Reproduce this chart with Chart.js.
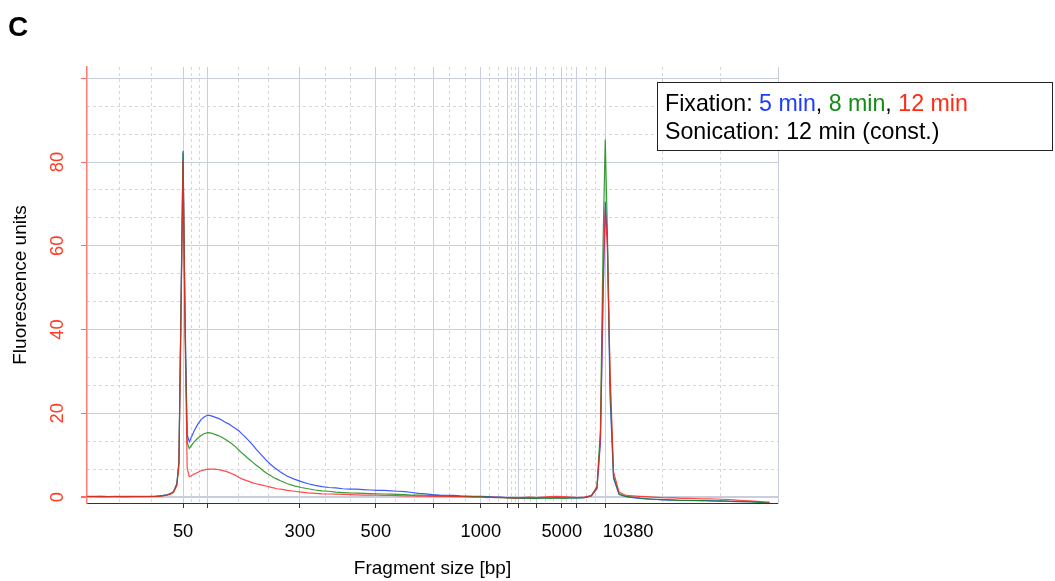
<!DOCTYPE html>
<html>
<head>
<meta charset="utf-8">
<title>Fragment size distribution</title>
<script src="https://cdn.jsdelivr.net/npm/chart.js@4.4.0/dist/chart.umd.min.js"></script>
<style>
  html, body { margin: 0; padding: 0; background: #fff; }
  #trace { display: block; }
</style>
</head>
<body>
<canvas id="trace" width="1055" height="581"></canvas>
<script>
"use strict";
/* electropherogram: three fixation times, same sonication */

// migration time (s) of each sample point
var times = [
  20, 21, 22, 23, 24, 25, 26, 27, 28, 29,
  30, 30.5, 31, 31.5, 32, 32.5, 33, 33.3, 33.6, 33.9, 34.2, 34.5, 34.8,
  35.1, 35.5, 36, 36.5, 37, 37.5, 38, 38.5, 39, 39.5, 40, 40.5, 41, 41.5, 42, 42.5,
  43, 43.5, 44, 44.5, 45, 45.5, 46, 46.5, 47, 47.5, 48,
  49, 50, 51, 52, 53, 54, 55, 56, 57, 58, 59, 60, 61, 62, 63, 64, 65, 66, 67, 68, 69, 70,
  71, 72, 73, 74, 75, 76, 77, 78, 79, 80, 81, 82, 83, 84, 85, 86, 87, 88, 89, 90, 91, 92,
  93, 93.8, 94.3, 94.7, 95, 95.3, 95.7, 96.2, 97,
  98, 99, 100, 101, 102, 103, 104, 105, 106, 107, 108, 109, 110, 111, 112, 113, 114, 115, 116, 117, 118, 118.8
];

// fluorescence units
var fix5 = [
  0.2, 0.1, 0.2, 0.1, 0.15, 0.1, 0.2, 0.1, 0.15, 0.2,
  0.25, 0.3, 0.4, 0.55, 0.8, 1.3, 3.2, 8.5, 46, 82.7, 42, 15, 13.2,
  14.3, 15.8, 17.3, 18.5, 19.2, 19.6, 19.4, 19.1, 18.8, 18.4, 17.9, 17.5, 16.9, 16.4, 15.8, 15.0,
  14.2, 13.3, 12.4, 11.4, 10.5, 9.6, 8.7, 7.9, 7.2, 6.6, 6.0,
  5.0, 4.3, 3.7, 3.2, 2.8, 2.5, 2.3, 2.2, 2.0, 1.9, 1.9, 1.8, 1.7, 1.6, 1.6, 1.5, 1.4, 1.3, 1.1, 0.9, 0.8, 0.6,
  0.5, 0.45, 0.4, 0.3, 0.25, 0.2, 0.2, 0.1, 0.0, 0.0, -0.2, -0.2, -0.3, -0.2, -0.3, -0.2, -0.2, -0.1, -0.2, -0.2, -0.2, -0.1,
  0.3, 2, 13, 48, 70.5, 62, 24, 4.5, 0.6,
  0.1, -0.1, -0.3, -0.4, -0.5, -0.6, -0.7, -0.7, -0.75, -0.8, -0.8, -0.85, -0.85, -0.9, -0.9, -1.0, -1.0, -1.05, -1.1, -1.2, -1.3, -1.4
];
var fix8 = [
  0.15, 0.2, 0.1, 0.15, 0.2, 0.1, 0.15, 0.2, 0.1, 0.15,
  0.2, 0.25, 0.35, 0.5, 0.7, 1.2, 3.0, 8, 44, 82.2, 40, 13, 11.6,
  12.3, 13.2, 14.0, 14.7, 15.2, 15.4, 15.3, 15.0, 14.7, 14.3, 13.8, 13.3, 12.7, 12.0, 11.2, 10.4,
  9.7, 9.0, 8.3, 7.6, 7.0, 6.3, 5.7, 5.2, 4.7, 4.3, 3.9,
  3.2, 2.7, 2.3, 2.0, 1.7, 1.5, 1.4, 1.2, 1.1, 1.0, 0.95, 0.9, 0.85, 0.8, 0.75, 0.7, 0.65, 0.6, 0.5, 0.5, 0.45, 0.4,
  0.35, 0.3, 0.25, 0.2, 0.15, 0.1, 0.1, 0.0, -0.1, -0.1, -0.2, -0.3, -0.2, -0.3, -0.3, -0.2, -0.3, -0.2, -0.3, -0.2, -0.2, -0.1,
  0.4, 2.5, 16, 62, 85.4, 64, 27, 5, 0.8,
  0.2, 0.0, -0.2, -0.4, -0.5, -0.6, -0.6, -0.7, -0.8, -0.75, -0.85, -0.8, -0.9, -0.95, -0.9, -1.0, -1.05, -1.1, -1.15, -1.2, -1.3, -1.4
];
var fix12 = [
  0.1, 0.15, 0.2, 0.1, 0.15, 0.2, 0.1, 0.15, 0.2, 0.1,
  0.2, 0.25, 0.3, 0.45, 0.65, 1.1, 2.7, 7.5, 42, 80.3, 38, 7, 4.9,
  5.1, 5.5, 5.9, 6.3, 6.5, 6.7, 6.7, 6.7, 6.6, 6.4, 6.2, 5.9, 5.6, 5.2, 4.7, 4.3,
  4.0, 3.7, 3.4, 3.2, 3.0, 2.8, 2.6, 2.4, 2.2, 2.0, 1.9,
  1.6, 1.4, 1.2, 1.0, 0.9, 0.8, 0.75, 0.7, 0.65, 0.6, 0.55, 0.5, 0.5, 0.45, 0.4, 0.4, 0.35, 0.3, 0.3, 0.25, 0.25, 0.2,
  0.2, 0.15, 0.1, 0.1, 0.05, 0.0, 0.0, -0.1, 0.0, -0.1, -0.1, -0.2, -0.1, 0.0, -0.1, 0.0, 0.1, 0.2, 0.1, 0.0, -0.1, 0.0,
  0.4, 2.2, 14, 52, 68.8, 60, 30, 6, 1.2,
  0.4, 0.3, 0.2, 0.1, 0.0, -0.1, -0.2, -0.2, -0.3, -0.3, -0.35, -0.4, -0.4, -0.45, -0.5, -0.6, -0.7, -0.8, -0.9, -1.0, -1.1, -1.2
];

var fixLabels = ["5 min", "8 min", "12 min"];

// ladder fragments (bp) and the time at which each one runs
var ladderSizes = [50, 100, 300, 500, 700, 1000, 1500, 2000, 3000, 5000, 7000, 10380];
var ladderTimes = [33.9, 37.4, 50.8, 61.8, 70.2, 77.0, 80.9, 82.5, 85.1, 88.7, 90.9, 95.0];
var shownSizes = [50, 300, 500, 1000, 5000, 10380];

var yTicks = [0, 20, 40, 60, 80, 100];
var yLabels = [0, 20, 40, 60, 80];

var tMin = 20, tMax = 120;
var yMin = -1.4, yMax = 102.7;

var lineColors = ["rgba(30,60,255,0.85)", "rgba(20,140,20,0.85)", "rgba(255,30,30,0.8)"];
var textColors = ["#1e3cff", "#148c14", "#ff2a14"];
var FONT = "'Liberation Sans', Arial, Helvetica, sans-serif";
var majorGrid = "rgb(200,206,222)";
var minorGrid = "rgb(214,214,214)";

// dotted lines at thirds between neighbouring ladder / y gridlines
function thirds(edges) {
  var out = [];
  for (var i = 0; i < edges.length - 1; i++) {
    var step = (edges[i + 1] - edges[i]) / 3;
    out.push(edges[i] + step, edges[i] + 2 * step);
  }
  return out;
}
var xMinor = thirds([tMin].concat(ladderTimes, [tMax]));
var yMinor = thirds(yTicks);

function toPoints(values) {
  return values.map(function (v, i) {
    return { x: times[i], y: v };
  });
}

var series = [fix5, fix8, fix12];
var datasets = series.map(function (values, i) {
  return {
    label: fixLabels[i],
    data: toPoints(values),
    borderColor: lineColors[i],
    borderWidth: 1.2,
    pointRadius: 0,
    tension: 0,
    fill: false,
    order: series.length - i, // 12 min drawn last, on top
  };
});

var panelText = {
  id: "panelText",
  afterDraw: function (chart) {
    var ctx = chart.ctx;
    var area = chart.chartArea;
    ctx.save();

    ctx.fillStyle = "#000";
    ctx.textBaseline = "alphabetic";
    ctx.textAlign = "left";
    ctx.font = "bold 28px " + FONT;
    ctx.fillText("C", 8, 36);

    // key box
    var bx = area.right - 121, by = area.top + 15;
    ctx.fillStyle = "#fff";
    ctx.fillRect(bx, by, 396, 69);
    ctx.strokeStyle = "#222";
    ctx.lineWidth = 1;
    ctx.strokeRect(bx + 0.5, by + 0.5, 395, 68);

    ctx.font = "23.2px " + FONT;
    var parts = [
      ["Fixation: ", "#000"],
      [fixLabels[0], textColors[0]],
      [", ", "#000"],
      [fixLabels[1], textColors[1]],
      [", ", "#000"],
      [fixLabels[2], textColors[2]],
    ];
    var x = bx + 8;
    parts.forEach(function (p) {
      ctx.fillStyle = p[1];
      ctx.fillText(p[0], x, by + 29);
      x += ctx.measureText(p[0]).width;
    });
    ctx.fillStyle = "#000";
    ctx.fillText("Sonication: 12 min (const.)", bx + 8, by + 57);
    ctx.restore();
  },
};

new Chart("trace", {
  type: "line",
  data: { datasets: datasets },
  options: {
    responsive: false,
    animation: false,
    events: [],
    layout: { padding: { left: 0, top: 67, right: 277, bottom: 0 } },
    plugins: {
      legend: { display: false },
      tooltip: { enabled: false },
    },
    scales: {
      x: {
        type: "linear",
        position: "bottom",
        min: tMin,
        max: tMax,
        afterBuildTicks: function (scale) {
          scale.ticks = ladderTimes.map(function (v) { return { value: v }; });
        },
        afterFit: function (scale) { scale.height = 78; },
        ticks: {
          autoSkip: false,
          maxRotation: 0,
          minRotation: 0,
          padding: 13,
          color: "#000",
          font: { family: FONT, size: 18.3 },
          callback: function (value, index) {
            var size = ladderSizes[index];
            if (shownSizes.indexOf(size) < 0) return "";
            // the marker label sits just right of its tick, clear of 5000
            if (index === ladderSizes.length - 1) return "\u2007\u2007\u2007\u2007 " + size;
            return String(size);
          },
        },
        grid: {
          color: majorGrid,
          lineWidth: 1,
          tickColor: "#333",
          tickLength: 5,
        },
        border: { display: true, color: "#333", width: 1 },
        title: {
          display: true,
          text: "Fragment size [bp]",
          color: "#000",
          font: { family: FONT, size: 19 },
          padding: { top: 0, bottom: 1 },
        },
      },
      xMinor: {
        type: "linear",
        position: "top",
        min: tMin,
        max: tMax,
        afterBuildTicks: function (scale) {
          scale.ticks = xMinor.map(function (v) { return { value: v }; });
        },
        afterFit: function (scale) { scale.height = 0; },
        ticks: { display: false },
        grid: { color: minorGrid, lineWidth: 1, drawTicks: false },
        border: { display: false, dash: [3, 3] },
      },
      y: {
        type: "linear",
        position: "left",
        min: yMin,
        max: yMax,
        afterBuildTicks: function (scale) {
          scale.ticks = yTicks.map(function (v) { return { value: v }; });
        },
        afterFit: function (scale) { scale.width = 87; },
        ticks: {
          minRotation: 90,
          maxRotation: 90,
          crossAlign: "center",
          padding: 13,
          color: "#ff3b24",
          font: { family: FONT, size: 18.3 },
          callback: function (value) {
            return yLabels.indexOf(value) >= 0 ? String(value) : "";
          },
        },
        grid: {
          color: majorGrid,
          lineWidth: function (c) {
            return c.tick && c.tick.value === 0 ? 2 : 1;
          },
          tickColor: "#ff6a5e",
          tickLength: 6,
        },
        border: { display: true, color: "#ff7a72", width: 1.5 },
        title: {
          display: true,
          text: "Fluorescence units",
          color: "#000",
          font: { family: FONT, size: 19 },
          padding: { top: 9, bottom: 0 },
        },
      },
      yMinor: {
        type: "linear",
        position: "right",
        min: yMin,
        max: yMax,
        afterBuildTicks: function (scale) {
          scale.ticks = yMinor.map(function (v) { return { value: v }; });
        },
        afterFit: function (scale) { scale.width = 0; },
        ticks: { display: false },
        grid: { color: minorGrid, lineWidth: 1, drawTicks: false },
        border: { display: true, color: majorGrid, width: 1, dash: [3, 3] },
      },
    },
  },
  plugins: [panelText],
});
</script>
</body>
</html>
